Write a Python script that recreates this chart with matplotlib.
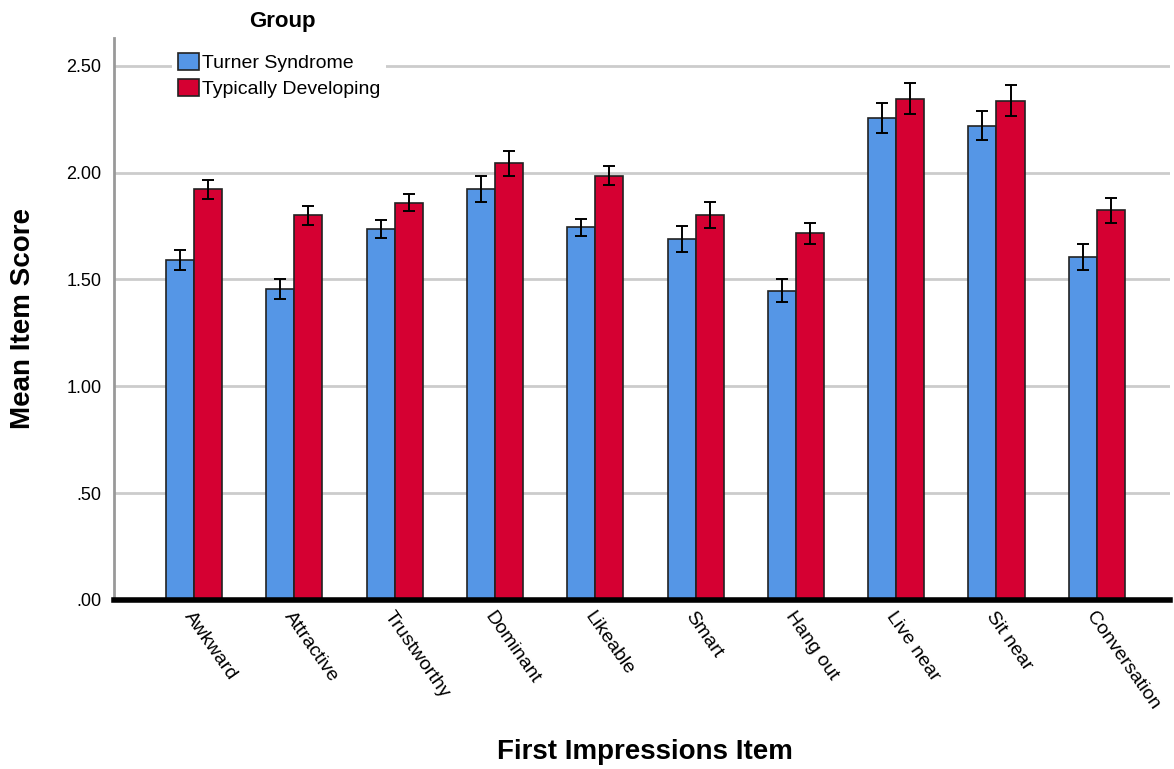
import matplotlib
matplotlib.use("Agg")
import matplotlib.pyplot as plt
import numpy as np

plt.rcParams['font.family'] = ['Liberation Sans', 'DejaVu Sans']

# data
items = ['Awkward', 'Attractive', 'Trustworthy', 'Dominant', 'Likeable',
         'Smart', 'Hang out', 'Live near', 'Sit near', 'Conversation']
turner = [1.59, 1.456, 1.735, 1.924, 1.744, 1.69, 1.448, 2.257, 2.22, 1.606]
turner_err = [0.047, 0.048, 0.043, 0.06, 0.04, 0.062, 0.053, 0.07, 0.068, 0.06]
typical = [1.922, 1.80, 1.86, 2.043, 1.985, 1.801, 1.716, 2.346, 2.337, 1.823]
typical_err = [0.045, 0.044, 0.041, 0.06, 0.044, 0.06, 0.05, 0.073, 0.072, 0.06]
groups = ['Turner Syndrome', 'Typically Developing']
yticks = [0, 0.5, 1.0, 1.5, 2.0, 2.5]
ytick_labels = ['.00', '.50', '1.00', '1.50', '2.00', '2.50']

blue = '#5596e6'
red = '#d50032'

W, H = 1174, 769
fig = plt.figure(figsize=(W/100, H/100), dpi=100)
ax = fig.add_axes([0.097, 0.2198, 0.8996, 0.7308])

x = np.arange(len(items))
w = 0.28
ekw = dict(elinewidth=1.4, capthick=1.4, ecolor='black')
ax.bar(x - w/2, turner, w, yerr=turner_err, capsize=4, color=blue,
       edgecolor='#222222', linewidth=1.2, label=groups[0], error_kw=ekw, zorder=3)
ax.bar(x + w/2, typical, w, yerr=typical_err, capsize=4, color=red,
       edgecolor='#222222', linewidth=1.2, label=groups[1], error_kw=ekw, zorder=3)

ax.set_xlim(-0.8, 9.73)
ax.set_ylim(0, 2.63)
ax.set_yticks(yticks)
ax.set_yticklabels(ytick_labels, fontsize=13)
ax.set_xticks(x)
ax.set_xticklabels(items, fontsize=14, rotation=-55, ha='left', va='top',
                   rotation_mode='anchor')
ax.tick_params(axis='y', length=0, pad=9)
ax.tick_params(axis='x', length=0, pad=6)

ax.yaxis.grid(True, color='#cccccc', linewidth=2, zorder=0)
ax.set_axisbelow(True)
for s in ['top', 'right']:
    ax.spines[s].set_visible(False)
ax.spines['left'].set_color('#999999')
ax.spines['left'].set_linewidth(2)
ax.spines['bottom'].set_color('black')
ax.spines['bottom'].set_linewidth(4)
ax.spines['bottom'].set_zorder(5)

ax.set_ylabel('Mean Item Score', fontsize=20, fontweight='bold', labelpad=22)
fig.text(645/W, 1 - 752/H, 'First Impressions Item', fontsize=20,
         fontweight='bold', ha='center', va='center')

leg = ax.legend(loc='upper left', bbox_to_anchor=(172/W, 1 - 47/H),
                bbox_transform=fig.transFigure, fontsize=14, frameon=True,
                facecolor='white', edgecolor='none', framealpha=1,
                handlelength=1.1, handleheight=1.0, handletextpad=0.15,
                labelspacing=0.35, borderpad=0.3, borderaxespad=0)
leg.set_zorder(10)
fig.text(282/W, 1 - 22/H, 'Group', fontsize=16, fontweight='bold',
         ha='center', va='center')

fig.savefig('out.png', dpi=100)
